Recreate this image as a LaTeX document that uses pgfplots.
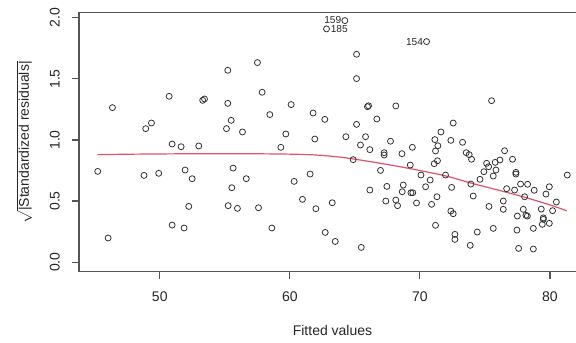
\documentclass[border=0pt]{standalone}
\usepackage{fontspec}
\setmainfont{Liberation Sans}
\usepackage{graphicx}
\usepackage{pgfplots}
\pgfplotsset{compat=1.18}
\definecolor{rred}{HTML}{DF536B}
\definecolor{framec}{HTML}{555555}
\begin{document}
\begin{tikzpicture}[x=1pt,y=1pt]
\path[use as bounding box] (0,0) rectangle (432,257.25);
\begin{axis}[
  at={(59.25pt,53.5pt)}, anchor=south west,
  scale only axis, width=380.25pt, height=194.25pt,
  xmin=43.79, xmax=82.77, ymin=-0.0786, ymax=2.043,
  axis line style={framec, line width=0.8pt},
  tick style={framec, line width=0.8pt},
  tick align=outside, major tick length=5.25pt,
  xtick={50,60,70,80}, ytick={0,0.5,1,1.5,2},
  xticklabels={50,60,70,80},
  yticklabels={\rotatebox{90}{0.0},\rotatebox{90}{0.5},\rotatebox{90}{1.0},\rotatebox{90}{1.5},\rotatebox{90}{2.0}},
  xtick pos=bottom, ytick pos=left,
  ticklabel style={font=\fontsize{10.5}{12}\selectfont, text=black!85, inner sep=0pt},
  yticklabel style={anchor=east, xshift=-9pt},
  xticklabel style={anchor=north, yshift=-9.75pt},
  xlabel={Fitted values},
  ylabel={$\sqrt{\mbox{|Standardized residuals|}}$},
  label style={font=\fontsize{10.5}{12}\selectfont, text=black!85},
  xlabel style={at={(axis description cs:0.5,-0.2286)}, anchor=center},
  ylabel style={at={(axis description cs:-0.1076,0.5)}, anchor=center},
]
\addplot[only marks, mark=o, mark size=2.25pt, mark options={black!80, line width=0.6pt}] coordinates {
(45.23,0.743) (46.03,0.197) (46.36,1.265) (48.79,0.710) (48.92,1.093)
(49.36,1.139) (49.92,0.727) (50.72,1.358) (50.95,0.967) (50.95,0.303)
(51.64,0.945) (51.87,0.279) (51.95,0.754) (52.23,0.456) (52.49,0.683)
(53.00,0.951) (53.30,1.325) (53.44,1.336) (55.13,1.093) (55.23,1.571)
(55.23,1.300) (55.26,0.462) (55.49,1.161) (55.54,0.609) (55.64,0.770)
(55.97,0.440) (56.36,1.066) (56.65,0.683) (57.51,1.634) (57.59,0.445)
(57.87,1.391) (58.46,1.208) (58.62,0.279) (59.31,0.940) (59.69,1.049)
(60.10,1.290) (60.33,0.661) (60.97,0.514) (61.56,0.721) (61.79,1.221)
(61.92,1.008) (62.00,0.437) (62.69,1.169) (62.72,0.243) (62.82,1.910)
(63.26,0.486) (63.49,0.169) (64.23,1.978) (64.31,1.027) (64.87,0.839)
(65.13,1.702) (65.13,1.503) (65.13,1.128) (65.43,0.959) (65.49,0.120)
(65.82,1.027) (65.97,1.273) (66.05,1.280) (66.15,0.921) (66.15,0.590)
(66.69,1.172) (66.97,0.751) (67.25,0.896) (67.25,0.877) (67.38,0.500)
(67.46,0.620) (67.74,0.990) (68.15,1.279) (68.15,0.508) (68.28,0.462)
(68.62,0.888) (68.64,0.576) (68.72,0.631) (69.26,0.795) (69.31,0.568)
(69.45,0.568) (69.42,0.940) (69.74,0.484) (70.08,0.713) (70.44,0.617)
(70.51,1.806) (70.79,0.672) (70.90,0.473) (71.10,0.806) (71.15,1.003)
(71.20,0.910) (71.20,0.301) (71.31,0.535) (71.35,0.830) (71.38,0.953)
(71.62,1.066) (71.97,0.713) (72.38,0.997) (72.38,0.418) (72.44,0.612)
(72.56,1.139) (72.56,0.396) (72.69,0.227) (72.69,0.186) (73.28,0.981)
(73.56,0.896) (73.79,0.880) (73.87,0.137) (73.92,0.639) (73.97,0.842)
(74.10,0.541) (74.41,0.246) (74.62,0.678) (74.92,0.740) (75.13,0.809)
(75.28,0.781) (75.31,0.456) (75.51,1.322) (75.64,0.705) (75.64,0.276)
(75.79,0.817) (75.85,0.754) (76.15,0.836) (76.41,0.500) (76.41,0.432)
(76.51,0.912) (76.67,0.601) (77.12,0.842) (77.28,0.590) (77.38,0.735)
(77.38,0.721) (77.46,0.262) (77.49,0.377) (77.59,0.112) (77.74,0.639)
(77.95,0.432) (78.05,0.535) (78.15,0.383) (78.26,0.377) (78.28,0.637)
(78.72,0.276) (78.72,0.107) (78.79,0.588) (79.33,0.434) (79.41,0.309)
(79.49,0.350) (79.49,0.362) (79.69,0.557) (79.95,0.617) (79.95,0.317)
(80.20,0.421) (80.49,0.492) (81.33,0.713)
};
\addplot[rred, line width=0.9pt, smooth] coordinates {
(45.2,0.880) (48,0.884) (52,0.887) (56,0.888) (60,0.884) (62,0.877)
(64,0.858) (66,0.826) (68,0.790) (70,0.750) (72,0.705) (74,0.645)
(76,0.590) (78,0.533) (80,0.468) (81.3,0.420)
};
\node[anchor=east, inner sep=0pt, xshift=-2.5pt, yshift=0.6pt, font=\fontsize{7.6}{8}\selectfont, text=black!85] at (axis cs:64.23,1.978) {159};
\node[anchor=west, inner sep=0pt, xshift=3pt, yshift=-0.4pt, font=\fontsize{7.6}{8}\selectfont, text=black!85] at (axis cs:62.82,1.910) {185};
\node[anchor=east, inner sep=0pt, xshift=-2.5pt, font=\fontsize{7.6}{8}\selectfont, text=black!85] at (axis cs:70.51,1.806) {154};
\end{axis}
\end{tikzpicture}
\end{document}
